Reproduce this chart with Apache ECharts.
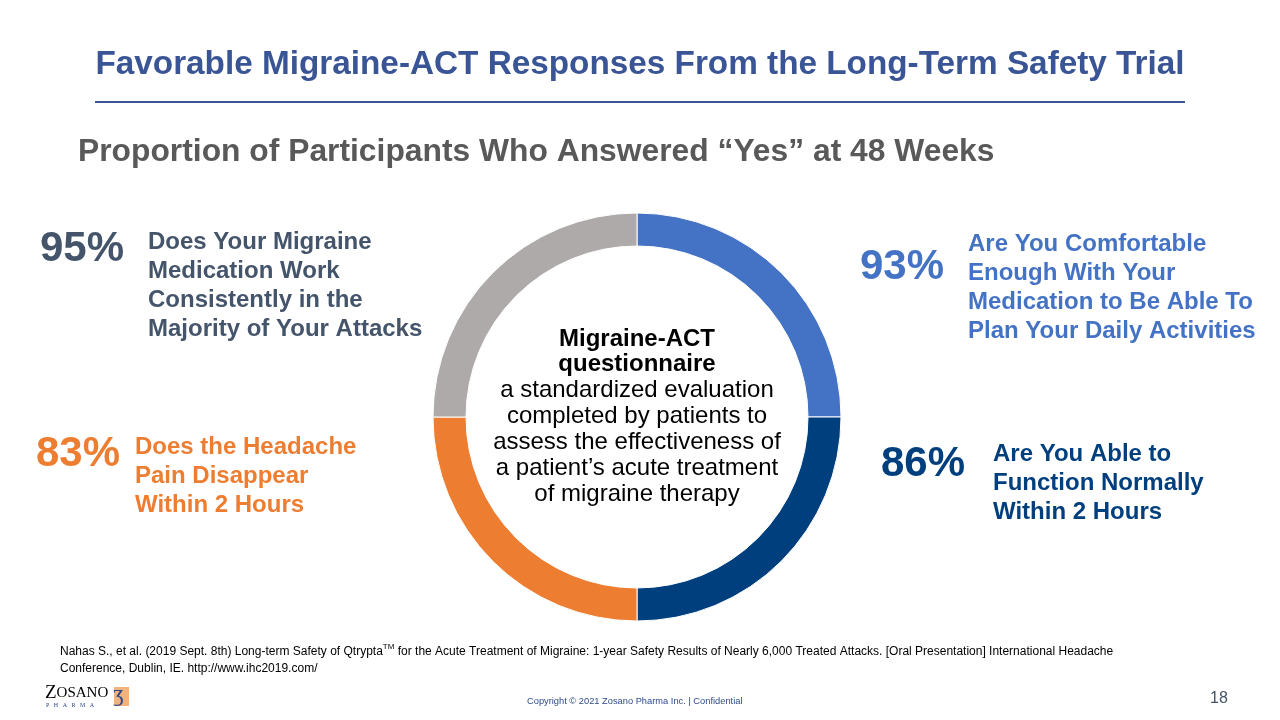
<!DOCTYPE html>
<html><head><meta charset="utf-8">
<script src="https://cdn.jsdelivr.net/npm/echarts@6/dist/echarts.min.js"></script>
<style>html,body{margin:0;padding:0;background:#fff}#c{width:1280px;height:720px}</style>
</head><body><div id="c"></div>
<script>
const questions = [
  'Are You Comfortable\nEnough With Your\nMedication to Be Able To\nPlan Your Daily Activities',
  'Are You Able to\nFunction Normally\nWithin 2 Hours',
  'Does the Headache\nPain Disappear\nWithin 2 Hours',
  'Does Your Migraine\nMedication Work\nConsistently in the\nMajority of Your Attacks'
];
const percents = [93, 86, 83, 95];
const segmentShares = [25, 25, 25, 25];
const segmentColors = ['#4472C4', '#003F7E', '#ED7D31', '#AEAAAA'];
const textColors = ['#4472C4', '#003F7E', '#ED7D31', '#44546A'];

const chart = echarts.init(document.getElementById('c'));
const F = '"Liberation Sans", Arial, sans-serif';
const S = '"Liberation Serif", "Times New Roman", serif';
const pctPos = [[860, 266], [881, 462.5], [36, 452.5], [40, 247.5]];
const qPos = [[968, 230], [993, 440], [135, 433], [148, 228]];
const textGraphics = [];
percents.forEach((p, i) => {
  textGraphics.push({type:'text', x:pctPos[i][0], y:pctPos[i][1] + 1.5,
    style:{text:p + '%', font:'bold 42px ' + F, fill:textColors[i], verticalAlign:'middle', align:'left'}});
  textGraphics.push({type:'text', left:qPos[i][0], top:qPos[i][1],
    style:{text:questions[i], font:'bold 24px ' + F, lineHeight:29, fill:textColors[i]}});
});

chart.setOption({
  animation:false,
  title:[{text:'Favorable Migraine-ACT Responses From the Long-Term Safety Trial', left:'center', top:43,
    textStyle:{fontFamily:F, fontSize:33.3, fontWeight:'bold', color:'#3A5596'}}],
  graphic:[
    {type:'line', shape:{x1:95, y1:102, x2:1185, y2:102}, style:{stroke:'#3A5596', lineWidth:2}},
    {type:'text', left:78, top:136, style:{text:'Proportion of Participants Who Answered “Yes” at 48 Weeks', font:'bold 31.8px ' + F, fill:'#595959'}},
    ...textGraphics,
    {type:'text', left:60, top:643, style:{rich:{
        a:{fontFamily:F, fontSize:12, color:'#595959', lineHeight:17},
        s:{fontFamily:F, fontSize:8, color:'#595959', verticalAlign:'top', padding:[0,0,6,0]}},
      text:'{a|Nahas S., et al. (2019 Sept. 8th) Long-term Safety of Qtrypta}{s|TM}{a| for the Acute Treatment of Migraine: 1-year Safety Results of Nearly 6,000 Treated Attacks. [Oral Presentation] International Headache}\n{a|Conference, Dublin, IE. http://www.ihc2019.com/}'}},
    {type:'text', left:45, top:684, style:{rich:{
        z:{fontFamily:S, fontSize:19, color:'#2E4A8A'},
        o:{fontFamily:S, fontSize:15, color:'#2E4A8A'}}, text:'{z|Z}{o|OSANO}'}},
    {type:'text', left:46, top:702, style:{text:'P   H   A   R   M   A', font:'6px ' + S, fill:'#2E4A8A'}},
    {type:'rect', shape:{x:114, y:687, width:15, height:19}, style:{fill:'#F2B27C'}},
    {type:'text', left:113, top:683, style:{text:'ʒ', font:'24px ' + S, fill:'#2E4A8A'}},
    {type:'text', left:527, top:697, style:{text:'Copyright © 2021 Zosano Pharma Inc. | Confidential', font:'9.3px ' + F, fill:'#2E4A8A'}},
    {type:'text', left:1210, top:691, style:{text:'18', font:'16px ' + F, fill:'#44546A'}}
  ],
  series:[{
    type:'pie', center:[637, 417], radius:[171, 204], startAngle:90, clockwise:true,
    label:{show:false}, labelLine:{show:false}, silent:true,
    itemStyle:{borderColor:'#fff', borderWidth:1},
    data:segmentShares.map((v, i) => ({value:v, name:questions[i], itemStyle:{color:segmentColors[i]}})),
    emphasis:{disabled:true}
  }, {
    type:'pie', center:[637, 417], radius:[0, 1], silent:true,
    data:[{value:1, itemStyle:{color:'rgba(0,0,0,0)'}}],
    label:{show:true, position:'center', rich:{
      b:{fontFamily:F, fontSize:24, fontWeight:'bold', color:'#000', lineHeight:25.5},
      n:{fontFamily:F, fontSize:24, color:'#000', lineHeight:26}},
      formatter:'{b|Migraine-ACT}\n{b|questionnaire}\n{n|a standardized evaluation}\n{n|completed by patients to}\n{n|assess the effectiveness of}\n{n|a patient’s acute treatment}\n{n|of migraine therapy}'},
    labelLine:{show:false}
  }]
});
</script></body></html>
